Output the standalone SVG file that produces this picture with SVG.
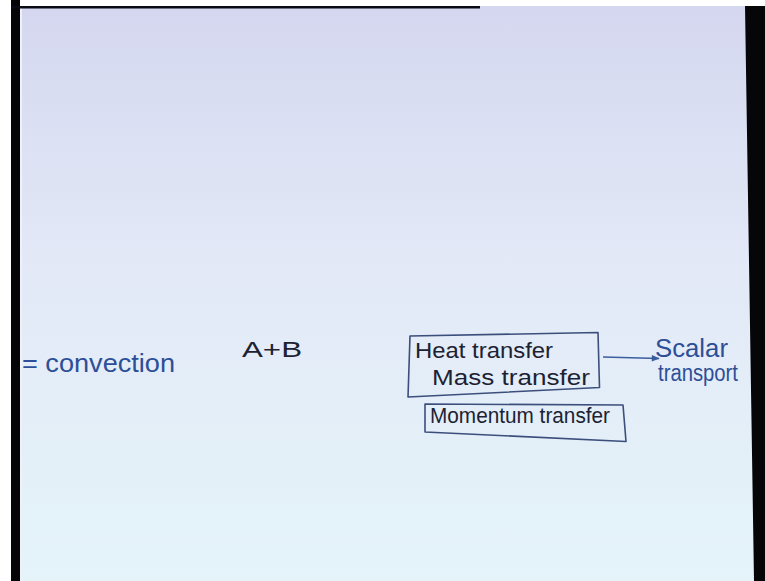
<svg xmlns="http://www.w3.org/2000/svg" width="765" height="581" viewBox="0 0 765 581">
  <defs>
    <linearGradient id="bg" x1="0" y1="0" x2="0" y2="1">
      <stop offset="0" stop-color="#d4d7ef"/>
      <stop offset="0.45" stop-color="#e3e9f7"/>
      <stop offset="1" stop-color="#e4f4f9"/>
    </linearGradient>
    <marker id="arrow" viewBox="0 0 10 10" refX="9" refY="5" markerWidth="12" markerHeight="8" orient="auto" markerUnits="userSpaceOnUse">
      <path d="M0,1 L10,5 L0,9 Z" fill="#3a5d9e"/>
    </marker>
    <style>
      .hand { font-family: "Liberation Sans", Arial, sans-serif; }
      .blue { fill: #2d4f98; }
      .dark { fill: #1d2233; }
      .box { fill: none; stroke: #3c4f7c; stroke-width: 1.6; stroke-linejoin: round; }
      .conn { fill: none; stroke: #3a5d9e; stroke-width: 1.6; }
    </style>
  </defs>

  <!-- background / photo frame -->
  <rect x="0" y="0" width="765" height="581" fill="#ffffff"/>
  <rect x="11" y="6" width="745" height="575" fill="url(#bg)"/>
  <rect x="11" y="0" width="9" height="581" fill="#050508"/>
  <rect x="20" y="8" width="2" height="573" fill="#eef2f8"/>
  <rect x="11" y="6" width="469" height="2.5" fill="#0a0a14"/>
  <polygon points="745,6 765,6 765,581 754,581" fill="#060608"/>

  <g id="convection">
    <text class="hand blue" x="22" y="372" font-size="25" textLength="153" lengthAdjust="spacingAndGlyphs">= convection</text>
  </g>

  <g id="a-plus-b">
    <text class="hand dark" x="242" y="357" font-size="22" textLength="60" lengthAdjust="spacingAndGlyphs">A+B</text>
  </g>

  <g id="scalar-box">
    <path class="box" d="M410,336 L598,332.5 L599.5,387.5 L408,397 Z"/>
    <text class="hand dark" x="415" y="358" font-size="22" textLength="138" lengthAdjust="spacingAndGlyphs">Heat transfer</text>
    <text class="hand dark" x="432" y="385" font-size="22" textLength="158" lengthAdjust="spacingAndGlyphs">Mass transfer</text>
  </g>

  <g id="momentum-box">
    <path class="box" d="M425,404 L623,405 L626,441.5 L425,432 Z"/>
    <text class="hand dark" x="430" y="423" font-size="22" textLength="180" lengthAdjust="spacingAndGlyphs">Momentum transfer</text>
  </g>

  <g id="scalar-transport">
    <text class="hand blue" x="655" y="357" font-size="25" textLength="73" lengthAdjust="spacingAndGlyphs">Scalar</text>
    <text class="hand blue" x="658" y="381" font-size="23" textLength="80" lengthAdjust="spacingAndGlyphs">transport</text>
  </g>

  <g id="connectors">
    <line class="conn" x1="603" y1="357" x2="659" y2="358.5" marker-end="url(#arrow)"/>
  </g>
</svg>
